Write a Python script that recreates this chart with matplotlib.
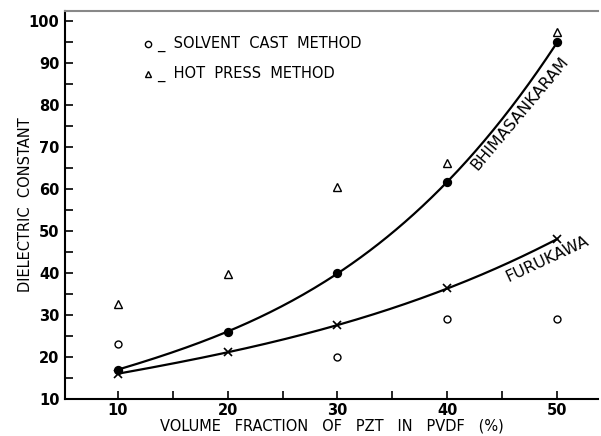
import numpy as np
import matplotlib
matplotlib.use("Agg")
import matplotlib.pyplot as plt

vol_frac = [10, 20, 30, 40, 50]
solvent_x = [10, 30, 40, 50]
solvent_cast = [23.1, 20.1, 29.1, 29.1]
hot_press = [32.6, 39.8, 60.5, 66.3, 97.3]
bhimasankaram = [17.0, 25.9, 40.1, 61.6, 95.0]
furukawa = [16.0, 21.1, 27.6, 36.3, 48.1]
xticks = [10, 20, 30, 40, 50]
yticks = [10, 20, 30, 40, 50, 60, 70, 80, 90, 100]

plt.rcParams['font.family'] = ['DejaVu Sans']
fig = plt.figure(figsize=(6.01, 4.36), dpi=100)
ax = fig.add_axes([0.108, 0.085, 0.887, 0.89])

xs = np.linspace(10, 50, 200)
for ys, mk, ms in [(bhimasankaram, 'o', 5.5), (furukawa, 'x', 6)]:
    c = np.polyfit(vol_frac, ys, 3)
    ax.plot(xs, np.polyval(c, xs), color='black', lw=1.6)
    ax.plot(vol_frac, ys, linestyle='none', marker=mk, color='black',
            markersize=ms, mew=1.2)

ax.plot(solvent_x, solvent_cast, linestyle='none', marker='o', mfc='none',
        mec='black', markersize=5, mew=1.0)
ax.plot(vol_frac, hot_press, linestyle='none', marker='^', mfc='none',
        mec='black', markersize=5.5, mew=1.0)

# legend-like annotations
ax.plot([12.8], [94.6], marker='o', mfc='none', mec='black', markersize=4.5, mew=1.0)
ax.text(13.6, 94.6, "_  SOLVENT  CAST  METHOD", fontsize=10.5, va='center', ha='left')
ax.plot([12.8], [87.4], marker='^', mfc='none', mec='black', markersize=4.5, mew=1.0)
ax.text(13.6, 87.4, "_  HOT  PRESS  METHOD", fontsize=10.5, va='center', ha='left')

ax.text(46.6, 78.0, "BHIMASANKARAM", rotation=50, fontsize=11.5, ha='center', va='center')
ax.text(49.1, 43.3, "FURUKAWA", rotation=25, fontsize=11.5, ha='center', va='center')

ax.set_xlim(5.2, 53.7)
ax.set_ylim(10, 102.4)
ax.set_xticks(xticks)
ax.set_yticks(yticks)
ax.set_xticks([15, 25, 35, 45], minor=True)
ax.set_yticks([15, 25, 35, 45, 55, 65, 75, 85, 95], minor=True)
ax.tick_params(which='both', direction='in', width=1.2, labelsize=10.5)
ax.tick_params(which='major', length=6)
ax.tick_params(which='minor', length=6)
ax.tick_params(axis='x', pad=3)
ax.tick_params(axis='y', pad=4)
for lab in ax.get_xticklabels() + ax.get_yticklabels():
    lab.set_fontweight('bold')

ax.spines['right'].set_visible(False)
ax.spines['top'].set_color('#888888')
ax.spines['top'].set_linewidth(1.5)
ax.spines['left'].set_linewidth(1.5)
ax.spines['bottom'].set_linewidth(1.5)

ax.set_xlabel("VOLUME   FRACTION   OF   PZT   IN   PVDF   (%)", fontsize=10.5, labelpad=0)
ax.set_ylabel("DIELECTRIC  CONSTANT", fontsize=10.5, labelpad=-3)

fig.savefig("out.png", dpi=100)
